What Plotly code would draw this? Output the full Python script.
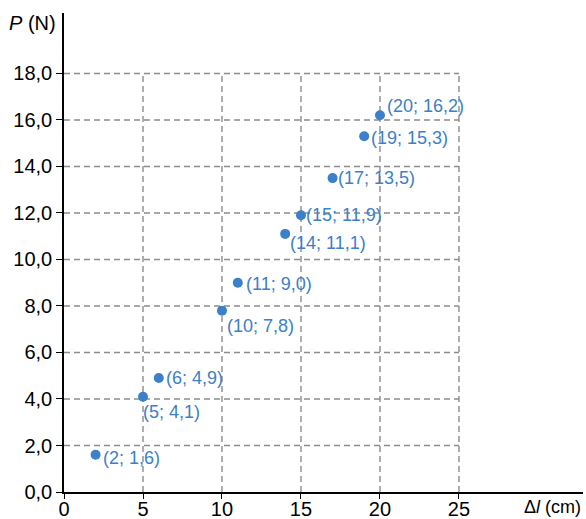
import plotly.graph_objects as go

# Measurements: spring extension (cm) and applied force (N)
extension_cm = [2, 5, 6, 10, 11, 14, 15, 17, 19, 20]
force_n = [1.6, 4.1, 4.9, 7.8, 9.0, 11.1, 11.9, 13.5, 15.3, 16.2]

x_ticks = [0, 5, 10, 15, 20, 25]
y_ticks = [0, 2, 4, 6, 8, 10, 12, 14, 16, 18]
y_tick_text = ["0,0", "2,0", "4,0", "6,0", "8,0", "10,0", "12,0", "14,0", "16,0", "18,0"]

# pixel offsets (left edge of text, vertical centre) of each point label
label_offsets = [(5, 3), (-2, 15), (5, 0), (3, 15), (6, 1),
                 (3, 9), (3, 0), (3, 0), (5, 2), (5, -9)]

BLUE = "#3b80c8"
GRID = "#8c8c8c"
FONT = "Liberation Sans, Arial, Helvetica, sans-serif"

X_MAX = 32.85
Y_MAX = 20.6


def fmt(v):
    return f"{v:.1f}".replace(".", ",")


fig = go.Figure()

fig.add_trace(go.Scatter(
    x=extension_cm, y=force_n, mode="markers",
    marker=dict(color=BLUE, size=10),
    hoverinfo="skip", showlegend=False,
))

# dashed grid bounded to the 0..25 x 0..18 box
grid_x_end = x_ticks[-1]
grid_y_end = y_ticks[-1]
for xv in x_ticks[1:]:
    fig.add_shape(type="line", xref="x", yref="y", x0=xv, x1=xv, y0=0, y1=grid_y_end,
                  line=dict(color=GRID, width=1.4, dash="6px,4px"), layer="below")
for yv in y_ticks[1:]:
    fig.add_shape(type="line", xref="x", yref="y", x0=0, x1=grid_x_end, y0=yv, y1=yv,
                  line=dict(color=GRID, width=1.4, dash="6px,4px"), layer="below")

# value labels beside each point
for xv, yv, (dx, dy) in zip(extension_cm, force_n, label_offsets):
    fig.add_annotation(
        x=xv, y=yv, xref="x", yref="y", text=f"({xv}; {fmt(yv)})",
        showarrow=False, xanchor="left", yanchor="middle",
        xshift=dx, yshift=-dy,
        font=dict(family=FONT, size=18, color=BLUE),
    )

# axis titles
fig.add_annotation(
    x=0, y=1, xref="paper", yref="paper", text="<i>P</i> (N)",
    showarrow=False, xanchor="right", yanchor="middle", xshift=-6, yshift=-10,
    font=dict(family=FONT, size=20, color="black"),
)
fig.add_annotation(
    x=1, y=0, xref="paper", yref="paper", text="Δ<i>l</i> (cm)",
    showarrow=False, xanchor="right", yanchor="middle", xshift=0, yshift=-15,
    font=dict(family=FONT, size=18, color="black"),
)

fig.update_xaxes(
    range=[0, X_MAX], tickvals=x_ticks, ticktext=[str(v) for v in x_ticks],
    showgrid=False, zeroline=False, showline=True, linecolor="black", linewidth=1.5,
    ticks="outside", ticklen=5, tickwidth=1.3, tickcolor="black",
    ticklabelstandoff=-7,
    tickfont=dict(family=FONT, size=20, color="black"), automargin=False,
)
fig.update_yaxes(
    range=[0, Y_MAX], tickvals=y_ticks, ticktext=y_tick_text,
    showgrid=False, zeroline=False, showline=True, linecolor="black", linewidth=1.5,
    ticks="outside", ticklen=6, tickwidth=1.3, tickcolor="black",
    tickfont=dict(family=FONT, size=20, color="black"), automargin=False,
)

fig.update_layout(
    width=586, height=519,
    margin=dict(l=64, r=3, t=13, b=27),
    plot_bgcolor="white", paper_bgcolor="white",
    font=dict(family=FONT),
)

fig.write_html("out.html")
